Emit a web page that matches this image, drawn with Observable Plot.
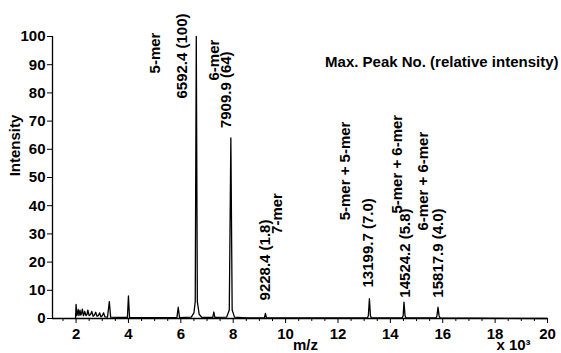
<!DOCTYPE html>
<html>
<head>
<meta charset="utf-8">
<script src="https://cdn.jsdelivr.net/npm/d3@7"></script>
<script src="https://cdn.jsdelivr.net/npm/@observablehq/plot@0.6"></script>
<style>
  html, body { margin: 0; padding: 0; background: #fff; }
  #chart svg { display: block; }
</style>
</head>
<body>
<div id="chart"></div>
<script>
// Spectrum trace (m/z in thousands, relative intensity %)
const mz = [1.98, 2.00, 2.03, 2.06, 2.08, 2.11, 2.13, 2.15, 2.18, 2.21, 2.24, 2.28, 2.31, 2.33, 2.38, 2.42, 2.45, 2.50, 2.55, 2.60, 2.65, 2.70, 2.75, 2.80, 2.85, 2.90, 2.95, 3.00, 3.05, 3.10, 3.20, 3.27, 3.32, 3.60, 3.96, 4.00, 4.04, 4.50, 5.85, 5.90, 5.95, 6.40, 6.50, 6.55, 6.59, 6.63, 6.70, 6.80, 7.22, 7.26, 7.30, 7.75, 7.85, 7.91, 7.96, 8.05, 8.50, 9.19, 9.23, 9.27, 13.12, 13.16, 13.20, 13.24, 13.28, 14.45, 14.49, 14.52, 14.56, 14.60, 15.74, 15.78, 15.82, 15.86, 15.90, 20.00];
const intensity = [0, 5.0, 1.0, 2.0, 3.2, 1.0, 2.0, 3.0, 1.2, 1.8, 3.3, 1.0, 1.6, 2.5, 1.0, 1.5, 3.0, 1.0, 1.4, 2.5, 0.8, 1.2, 2.2, 0.8, 1.0, 2.0, 0.6, 1.0, 2.0, 0.6, 0.5, 6.0, 0.5, 0.4, 0.4, 8.0, 0.4, 0.3, 0.3, 4.0, 0.3, 0.5, 2.0, 6.0, 100, 6.0, 1.5, 0.4, 0.4, 2.3, 0.4, 0.5, 3.0, 64, 3.0, 0.5, 0.2, 0.2, 1.8, 0.2, 0.2, 1.0, 7.0, 1.0, 0.2, 0.2, 1.0, 5.8, 1.0, 0.2, 0.2, 1.0, 4.0, 1.0, 0.2, 0];

// Annotated peaks
const peakMz = [6.5924, 7.9099, 9.2284, 13.1997, 14.5242, 15.8179];
const peakValue = ["6592.4 (100)", "7909.9 (64)", "9228.4 (1.8)", "13199.7 (7.0)", "14524.2 (5.8)", "15817.9 (4.0)"];
const peakName = ["5-mer", "6-mer", "7-mer", "5-mer + 5-mer", "5-mer + 6-mer", "6-mer + 6-mer"];

// Tick labels
const xTicks = [2, 4, 6, 8, 10, 12, 14, 16, 18, 20];
const yTicks = [0, 10, 20, 30, 40, 50, 60, 70, 80, 90, 100];

// Layout of the annotations (start of rotated text in intensity units, pixel offsets)
const valueStart = [78, 67.5, 6.4, 11, 7.4, 7.4];
const valueDx = [-14, -5, 0, -1, 1, 0];
const nameStart = [86.9, 84.4, 30, 34.8, 37.2, 31.2];
const nameDx = [-41, -17, 12, -24, -7, -14.5];

const spectrum = mz.map((m, i) => ({mz: m, i: intensity[i]}));
const peaks = peakMz.map((m, k) => ({mz: m, value: peakValue[k], name: peakName[k], vs: valueStart[k], vdx: valueDx[k], ns: nameStart[k], ndx: nameDx[k]}));
const minorTicks = d3.range(1.5, 20.01, 0.5).filter(t => !xTicks.includes(t));

const font = "'Liberation Sans', Arial, Helvetica, sans-serif";
const fs = 15;

const marks = [
  Plot.axisX({ticks: minorTicks, tickSize: 3, tickFormat: () => "", label: null}),
  Plot.axisX({ticks: xTicks, tickSize: 5, tickPadding: 5, tickFormat: d => String(d), label: null}),
  Plot.axisY({ticks: yTicks, tickSize: 5, tickPadding: 2, tickFormat: d => String(d), label: null}),
  Plot.ruleY([0], {stroke: "#000", strokeWidth: 1.3}),
  Plot.ruleX([1.1], {y1: 0, y2: 100, stroke: "#000", strokeWidth: 1.3}),
  Plot.line(spectrum, {x: "mz", y: "i", stroke: "#000", strokeWidth: 1.3}),
  // peak value labels
  ...peaks.map(p => Plot.text([p], {x: "mz", y: "vs", text: "value", rotate: -90, textAnchor: "start", lineAnchor: "middle", dx: p.vdx, fontSize: fs, fontWeight: "bold", fill: "#000"})),
  ...peaks.map(p => Plot.text([p], {x: "mz", y: "ns", text: "name", rotate: -90, textAnchor: "start", lineAnchor: "middle", dx: p.ndx, fontSize: fs, fontWeight: "bold", fill: "#000"})),
  Plot.text(["Max. Peak No. (relative intensity)"], {frameAnchor: "top-right", textAnchor: "end", lineAnchor: "middle", dx: 11, dy: 26, fontSize: fs, fontWeight: "bold"}),
  Plot.text(["Intensity"], {frameAnchor: "left", rotate: -90, textAnchor: "middle", lineAnchor: "middle", dx: -37, dy: -32, fontSize: fs, fontWeight: "bold"}),
  Plot.text(["m/z"], {frameAnchor: "bottom-left", textAnchor: "middle", lineAnchor: "middle", dx: 253, dy: 27, fontSize: fs, fontWeight: "bold"}),
  Plot.text(["x 10³"], {frameAnchor: "bottom-left", textAnchor: "middle", lineAnchor: "middle", dx: 461, dy: 27, fontSize: fs, fontWeight: "bold"})
];

const chart = Plot.plot({
  width: 561,
  height: 353,
  marginLeft: 52,
  marginRight: 14,
  marginTop: 36,
  marginBottom: 35,
  x: {domain: [1.1, 20]},
  y: {domain: [0, 100]},
  style: {fontFamily: font, fontSize: fs + "px", fontWeight: "bold", color: "#000", background: "#fff", overflow: "visible"},
  marks
});
document.getElementById("chart").appendChild(chart);
</script>
</body>
</html>
